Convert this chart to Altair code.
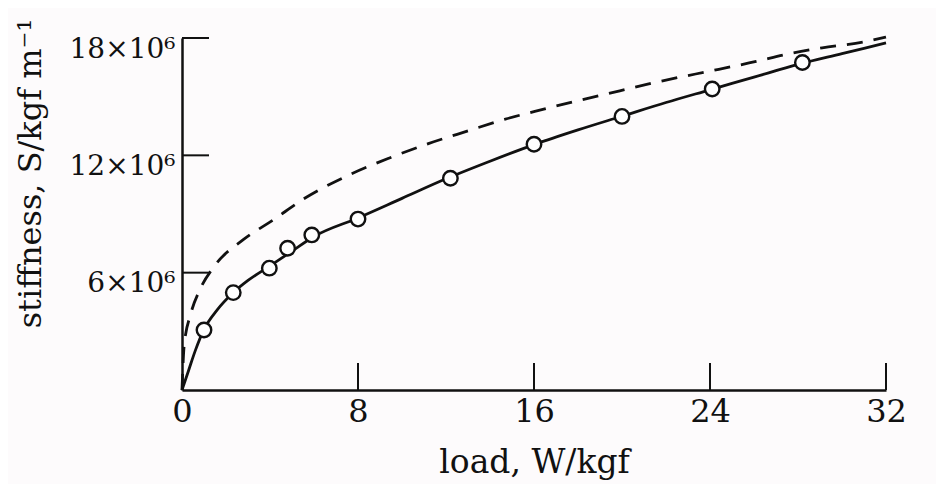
import altair as alt
import pandas as pd

# ---- data (stiffness in units of 10^6 kgf/m) ----
point_load = [1.0, 2.33, 3.97, 4.8, 5.9, 8.0, 12.2, 16.0, 20.0, 24.1, 28.2]
point_stiff = [3.07, 4.98, 6.23, 7.25, 7.93, 8.74, 10.83, 12.57, 13.99, 15.39, 16.75]

solid_load = [0, 0.3, 0.6, 1.0, 1.6, 2.3, 3.0, 4.0, 5.0, 6.0, 8.0, 10, 12, 14,
              16, 18, 20, 22, 24, 26, 28, 30, 32]
solid_stiff = [0, 1.0, 2.0, 3.1, 4.1, 4.95, 5.6, 6.35, 7.1, 7.85, 8.8, 9.8, 10.8,
               11.7, 12.55, 13.3, 14.0, 14.7, 15.35, 16.0, 16.65, 17.2, 17.75]

dashed_load = [0, 0.1, 0.4, 0.8, 1.45, 2.8, 4.15, 5.5, 7.7, 9.4, 11.2, 13.0, 14.7,
               16.4, 18.2, 19.9, 21.4, 24.4, 26.1, 27.4, 29.1, 31.0, 32]
dashed_stiff = [0, 2.3, 3.9, 5.1, 6.3, 7.7, 8.7, 9.75, 11.05, 11.85, 12.6, 13.25,
                13.85, 14.35, 14.85, 15.3, 15.7, 16.4, 16.8, 17.15, 17.5, 17.8, 18.05]

x_tick_values = [0, 8, 16, 24, 32]
x_inner_ticks = [8, 16, 24, 32]
y_tick_values = [6, 12, 18]

FONT = "DejaVu Serif"
W, H = 704, 352
TICK = 27

x_axis = alt.Axis(
    values=x_tick_values, tickSize=0, labelPadding=6, labelFontSize=32,
    labelFont=FONT, labelColor="#111", labelFlush=False, grid=False,
    domainColor="#111", domainWidth=2.5,
    title="load, W/kgf", titleFont=FONT, titleFontSize=33, titleFontWeight="normal",
    titleColor="#111", titleBaseline="alphabetic", titleY=82, titleX=W / 2,
    titleAnchor="middle",
)
y_axis = alt.Axis(
    values=y_tick_values, tickSize=0, labelPadding=7, labelFontSize=28,
    labelFont=FONT, labelColor="#111", labelBaseline="alphabetic", labelOffset=19,
    labelFlush=False, grid=False,
    labelExpr="datum.value + '×10⁶'",
    domainColor="#111", domainWidth=2.5,
    title="stiffness, S/kgf m⁻¹", titleFont=FONT, titleFontSize=32,
    titleFontWeight="normal", titleColor="#111", titleAngle=-90,
    titleBaseline="alphabetic", titleAlign="center", titleX=-142, titleY=135,
)

xs = alt.Scale(domain=[0, 32], nice=False, zero=True)
ys = alt.Scale(domain=[0, 18], nice=False, zero=True)

def X():
    return alt.X("W:Q", scale=xs, axis=x_axis)

def Y():
    return alt.Y("S:Q", scale=ys, axis=y_axis)

solid_df = pd.DataFrame({"W": solid_load, "S": solid_stiff})
dashed_df = pd.DataFrame({"W": dashed_load, "S": dashed_stiff})
pts_df = pd.DataFrame({"W": point_load, "S": point_stiff})
xt_df = pd.DataFrame({"W": x_inner_ticks})
yt_df = pd.DataFrame({"S": y_tick_values})

solid = alt.Chart(solid_df).mark_line(
    color="#111", strokeWidth=2.8, interpolate="monotone"
).encode(x=X(), y=Y())

dashed = alt.Chart(dashed_df).mark_line(
    color="#111", strokeWidth=2.8, strokeDash=[16, 11], interpolate="monotone"
).encode(x=X(), y=Y())

points = alt.Chart(pts_df).mark_point(
    shape="circle", filled=True, fill="white", stroke="#111",
    strokeWidth=2.4, size=210, opacity=1
).encode(x=X(), y=Y())

xticks = alt.Chart(xt_df).mark_rule(color="#111", strokeWidth=2).encode(
    x=X(), y=alt.value(H), y2=alt.value(H - TICK)
)
yticks = alt.Chart(yt_df).mark_rule(color="#111", strokeWidth=2).encode(
    y=Y(), x=alt.value(0), x2=alt.value(TICK)
)

chart = alt.layer(xticks, yticks, solid, dashed, points).properties(
    width=W, height=H,
    autosize=alt.AutoSizeParams(type="none"),
    padding={"left": 174, "top": 30, "right": 50, "bottom": 94},
    background="#fdfbfc",
).configure_view(stroke=None)

chart.save("out.html", embed_options={"renderer": "svg", "actions": False})
